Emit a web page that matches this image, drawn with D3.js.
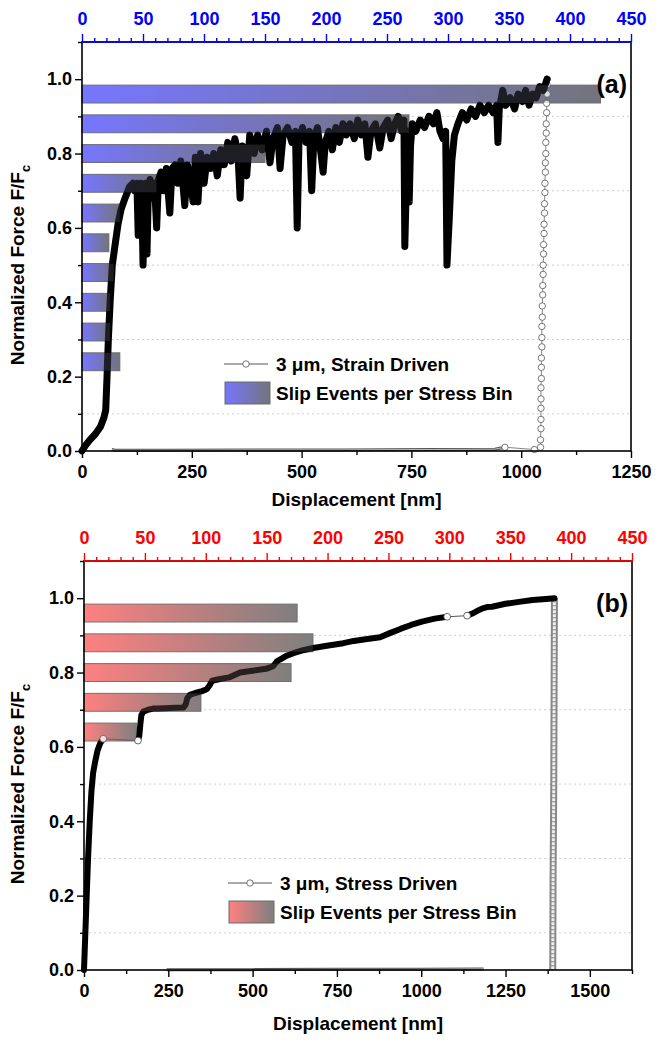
<!DOCTYPE html>
<meta charset="utf-8">
<script src="https://d3js.org/d3.v7.min.js"></script>
<style>
body { margin: 0; background: #fff; }
text { font-family: "Liberation Sans", Arial, sans-serif; font-weight: bold; }
</style>
<body>
<div id="canvas"></div>
<script>

// ---------------- data ----------------
// stress bins (F/Fc, bin centres) and slip events per bin (top axis units)
var binsA   = [0.24, 0.32, 0.40, 0.48, 0.56, 0.64, 0.72, 0.80, 0.88, 0.96];
var eventsA = [31, 23, 23, 26, 22, 31, 61, 150, 268, 425];
var binsB   = [0.64, 0.72, 0.80, 0.88, 0.96];
var eventsB = [43, 96, 170, 188, 175];
var binHalf = 0.024;

// (a) strain driven, [displacement nm, F/Fc]
var strainLoad = [[0,0],[8,0.015],[18,0.03],[30,0.045],[42,0.065],[50,0.09],[54,0.11],[57,0.2],[60,0.3],[64,0.4],[69,0.5],
  [76,0.56],[82,0.61],[89,0.65],[98,0.68],[108,0.71],[116,0.72],[120,0.70],[125,0.72],[128,0.58],[131,0.70],[134,0.72],
  [137,0.62],[139,0.50],[142,0.66],[145,0.72],[148,0.53],[151,0.70],[155,0.73],[160,0.68],[165,0.72],[170,0.60],[174,0.73],
  [180,0.75],[186,0.70],[192,0.76],[200,0.64],[205,0.76],[212,0.77],[218,0.72],[225,0.78],[234,0.66],[240,0.77],[246,0.73],
  [253,0.67],[258,0.79],[264,0.67],[270,0.80],[278,0.72],[285,0.79],[293,0.76],[300,0.80],[308,0.74],[316,0.81],[324,0.77],
  [332,0.83],[340,0.78],[348,0.84],[355,0.80],[360,0.68],[365,0.82],[375,0.74],[382,0.85],[392,0.80],[400,0.85],[410,0.81],
  [420,0.86],[428,0.775],[435,0.84],[445,0.87],[451,0.76],[458,0.85],[468,0.87],[478,0.83],[486,0.86],[490,0.60],[494,0.83],
  [502,0.87],[510,0.83],[518,0.86],[523,0.70],[528,0.84],[536,0.87],[544,0.80],[549,0.75],[554,0.83],[562,0.86],[570,0.81],
  [578,0.87],[586,0.83],[594,0.88],[602,0.85],[610,0.88],[620,0.84],[628,0.89],[636,0.85],[644,0.88],[651,0.79],[658,0.86],
  [668,0.88],[678,0.815],[686,0.87],[696,0.89],[704,0.84],[712,0.88],[720,0.90],[728,0.86],[733,0.89],[735,0.55],[738,0.70],
  [742,0.86],[745,0.67],[748,0.82],[752,0.88],[760,0.86],[770,0.89],[780,0.87],[790,0.90],[800,0.88],[808,0.91],[815,0.86],
  [822,0.84],[828,0.86],[831,0.50],[836,0.62],[842,0.78],[848,0.85],[856,0.88],[866,0.91],[876,0.89],[886,0.92],[896,0.90],
  [906,0.93],[916,0.91],[926,0.93],[936,0.91],[944,0.93],[947,0.83],[950,0.92],[958,0.97],[965,0.93],[975,0.95],[985,0.92],
  [993,0.96],[1003,0.94],[1010,0.97],[1018,0.93],[1026,0.96],[1034,0.95],[1042,0.98],[1050,0.97],[1056,0.99],[1059,1.0]];
var strainUnload = [[1059,1.0],[1059,0.985],[1059,0.96],[1058,0.935],[1058,0.91],[1057,0.88],[1057,0.855],[1056,0.83],
  [1056,0.80],[1055,0.775],[1055,0.75],[1054,0.72],[1054,0.695],[1053,0.665],[1053,0.64],[1052,0.61],[1052,0.585],
  [1051,0.555],[1051,0.53],[1050,0.50],[1050,0.475],[1049,0.445],[1049,0.42],[1048,0.39],[1048,0.36],[1047,0.335],
  [1047,0.305],[1047,0.28],[1046,0.25],[1046,0.225],[1046,0.195],[1045,0.17],[1045,0.14],[1045,0.115],[1045,0.085],
  [1045,0.06],[1044,0.03],[1044,0.01],[1030,0.004],[963,0.01]];
var strainReturn = [[963,0.01],[940,0.005],[800,0.004],[600,0.003],[400,0.003],[200,0.002],[75,0.002],[68,0.004]];

// (b) stress driven, dense runs joined by jumps
var stressRuns = [
  [[0,0],[4,0.1],[8,0.2],[12,0.3],[17,0.4],[22,0.48],[27,0.53],[33,0.56],[40,0.59],[48,0.61],[57,0.622]],
  [[160,0.617],[164,0.63],[167,0.66],[170,0.685],[176,0.695],[190,0.70],[205,0.703],[216,0.703],[240,0.704],[270,0.705],
   [295,0.706],[302,0.715],[306,0.73],[314,0.74],[330,0.745],[350,0.75],[364,0.755],[372,0.765],[380,0.778],[400,0.782],
   [430,0.787],[463,0.80],[500,0.805],[540,0.81],[561,0.817],[572,0.83],[581,0.835],[600,0.845],[621,0.852],[650,0.86],
   [680,0.866],[720,0.872],[769,0.879],[800,0.885],[840,0.89],[878,0.895],[907,0.906],[940,0.918],[970,0.928],
   [1002,0.937],[1040,0.945],[1077,0.95]],
  [[1136,0.953],[1150,0.958],[1165,0.965],[1180,0.972],[1195,0.976],[1210,0.977],[1250,0.985],[1290,0.99],[1330,0.995],
   [1370,0.998],[1395,1.0]]
];
var stressUnload = [[1395,1.0],[1394,0.75],[1393,0.5],[1391,0.25],[1390,0]];
var stressReturn = [[1185,0.003],[1000,0.002],[750,0.002],[500,0.001],[245,0.001]];

// tick labels
var yMajor = [0, 0.2, 0.4, 0.6, 0.8, 1.0];
var yMinor = [0.1, 0.3, 0.5, 0.7, 0.9, 1.1];
var topMajor = [0, 50, 100, 150, 200, 250, 300, 350, 400, 450];
var xMajorA = [0, 250, 500, 750, 1000, 1250];
var xMajorB = [0, 250, 500, 750, 1000, 1250, 1500];

var width = 663, height = 1040;
var svg = d3.select('#canvas').append('svg')
    .attr('width', width).attr('height', height);
var defs = svg.append('defs');

function gradient(id, c0, c1) {
  var gr = defs.append('linearGradient').attr('id', id)
      .attr('x1', '0%').attr('x2', '100%').attr('y1', '0%').attr('y2', '0%');
  gr.append('stop').attr('offset', '0%').attr('stop-color', c0);
  gr.append('stop').attr('offset', '100%').attr('stop-color', c1);
}
gradient('gBlue', '#7676ff', '#74747c');
gradient('gRed', '#ff8080', '#7f7f7f');

function styleAxis(sel, color) {
  sel.attr('font-family', '"Liberation Sans", Arial, sans-serif')
     .attr('font-size', 18).attr('font-weight', 'bold');
  sel.selectAll('.tick line').attr('stroke', color).attr('stroke-width', 1.4);
  sel.selectAll('.tick text').attr('fill', color);
  sel.select('.domain').remove();
}

function drawPanel(p) {
  var x = d3.scaleLinear().domain([0, p.xMax]).range([p.left, p.right]);
  var xt = d3.scaleLinear().domain([0, 450]).range([p.left, p.right]);
  var y = d3.scaleLinear().domain([0, 1.1]).range([p.bottom, p.top]);
  var line = d3.line().x(function(d) { return x(d[0]); }).y(function(d) { return y(d[1]); });
  var g = svg.append('g');

  // dotted grid on the minor ticks
  g.selectAll('.grid').data(yMinor.slice(0, 5)).enter().append('line')
    .attr('x1', p.left).attr('x2', p.right)
    .attr('y1', function(d) { return y(d); }).attr('y2', function(d) { return y(d); })
    .attr('stroke', '#cfcfcf').attr('stroke-width', 1).attr('stroke-dasharray', '2,3');

  // slip events per stress bin
  function bars(cls, opacity, stroke) {
    g.selectAll('.' + cls).data(p.bins).enter().append('rect')
      .attr('x', xt(0))
      .attr('y', function(d) { return y(d + binHalf); })
      .attr('width', function(d, i) { return xt(p.events[i]) - xt(0); })
      .attr('height', function(d) { return y(d - binHalf) - y(d + binHalf); })
      .attr('fill', 'url(#' + p.grad + ')')
      .attr('fill-opacity', opacity)
      .attr('stroke', stroke).attr('stroke-width', 1);
  }
  bars('barU', 1, '#6a6a6a');

  // return path along zero
  g.append('path').datum(p.ret).attr('d', line)
    .attr('fill', 'none').attr('stroke', '#555').attr('stroke-width', 3);
  g.append('path').datum(p.ret).attr('d', line)
    .attr('fill', 'none').attr('stroke', '#bdbdbd').attr('stroke-width', 1);

  // unloading branch
  if (p.unloadDense) {
    g.append('path').datum(p.unload).attr('d', line)
      .attr('fill', 'none').attr('stroke', '#888').attr('stroke-width', 7);
    g.append('path').datum(p.unload).attr('d', line)
      .attr('fill', 'none').attr('stroke', '#eee').attr('stroke-width', 3)
      .attr('stroke-dasharray', '3,1');
  } else {
    g.append('path').datum(p.unload).attr('d', line)
      .attr('fill', 'none').attr('stroke', '#666').attr('stroke-width', 0.8);
    g.selectAll('.uc').data(p.unload).enter().append('circle')
      .attr('cx', function(d) { return x(d[0]); }).attr('cy', function(d) { return y(d[1]); })
      .attr('r', 3.2).attr('fill', '#fff').attr('stroke', '#555').attr('stroke-width', 0.8);
  }

  // loading: dense runs drawn thick, jumps between runs thin
  for (var i = 0; i < p.runs.length - 1; i++) {
    var a = p.runs[i][p.runs[i].length - 1], b = p.runs[i + 1][0];
    g.append('path').datum([a, b]).attr('d', line)
      .attr('fill', 'none').attr('stroke', '#555').attr('stroke-width', 1);
  }
  p.runs.forEach(function(run) {
    g.append('path').datum(run).attr('d', line)
      .attr('fill', 'none').attr('stroke', '#000').attr('stroke-width', p.lineW)
      .attr('stroke-linejoin', 'round').attr('stroke-linecap', 'round');
  });
  for (var j = 0; j < p.runs.length - 1; j++) {
    var e = [p.runs[j][p.runs[j].length - 1], p.runs[j + 1][0]];
    g.selectAll('.jc' + j).data(e).enter().append('circle')
      .attr('cx', function(d) { return x(d[0]); }).attr('cy', function(d) { return y(d[1]); })
      .attr('r', 3.4).attr('fill', '#fff').attr('stroke', '#444').attr('stroke-width', 0.8);
  }

  // bars tint the curve where they overlap
  bars('barO', 0.25, 'none');

  // frame
  g.append('rect').attr('x', p.left).attr('y', p.top)
    .attr('width', p.right - p.left).attr('height', p.bottom - p.top)
    .attr('fill', 'none').attr('stroke', '#000').attr('stroke-width', 1.6);

  // axes
  var ax = g.append('g').attr('transform', 'translate(' + p.left + ',0)')
    .call(d3.axisLeft(y).tickValues(yMajor).tickFormat(d3.format('.1f')).tickSize(7).tickPadding(3));
  styleAxis(ax, '#000');
  var axm = g.append('g').attr('transform', 'translate(' + p.left + ',0)')
    .call(d3.axisLeft(y).tickValues(yMinor).tickFormat('').tickSize(4));
  styleAxis(axm, '#000');

  var minorX = d3.range(125, p.xMax + 1, 250);
  var bx = g.append('g').attr('transform', 'translate(0,' + p.bottom + ')')
    .call(d3.axisBottom(x).tickValues(p.xMajor).tickFormat(d3.format('d')).tickSize(7).tickPadding(7));
  styleAxis(bx, '#000');
  var bxm = g.append('g').attr('transform', 'translate(0,' + p.bottom + ')')
    .call(d3.axisBottom(x).tickValues(minorX).tickFormat('').tickSize(4));
  styleAxis(bxm, '#000');

  var tx = g.append('g').attr('transform', 'translate(0,' + p.top + ')')
    .call(d3.axisTop(xt).tickValues(topMajor).tickSize(8).tickPadding(9));
  styleAxis(tx, p.color);
  var txm = g.append('g').attr('transform', 'translate(0,' + p.top + ')')
    .call(d3.axisTop(xt).tickValues(d3.range(10, 450, 10).filter(function(d) { return d % 50; }))
      .tickFormat('').tickSize(4));
  styleAxis(txm, p.color);
  g.append('line').attr('x1', p.left).attr('x2', p.right)
    .attr('y1', p.top).attr('y2', p.top)
    .attr('stroke', p.color).attr('stroke-width', 1.6);

  // titles
  g.append('text').attr('x', (p.left + p.right) / 2).attr('y', p.bottom + p.titleGap)
    .attr('text-anchor', 'middle').attr('font-size', 19).text('Displacement [nm]');
  var yt = g.append('text')
    .attr('transform', 'translate(24,' + y(0.5) + ') rotate(-90)')
    .attr('text-anchor', 'middle').attr('font-size', 19);
  yt.append('tspan').text('Normalized Force F/F');
  yt.append('tspan').attr('font-size', 13).attr('dy', 6).text('c');

  g.append('text').attr('x', p.right - 4).attr('y', p.top + 51)
    .attr('text-anchor', 'end').attr('font-size', 25).text(p.letter);

  // legend
  var lg = g.append('g').attr('transform', 'translate(' + p.legX + ',' + p.legY + ')');
  lg.append('line').attr('x1', 0).attr('x2', 44).attr('y1', 0).attr('y2', 0)
    .attr('stroke', '#555').attr('stroke-width', 1);
  lg.append('circle').attr('cx', 22).attr('cy', 0).attr('r', 3.2)
    .attr('fill', '#fff').attr('stroke', '#555').attr('stroke-width', 0.8);
  lg.append('text').attr('x', 52).attr('y', 0).attr('dy', '0.36em')
    .attr('font-size', 19).text(p.legText);
  lg.append('rect').attr('x', 1).attr('y', 18).attr('width', 45).attr('height', 22)
    .attr('fill', 'url(#' + p.grad + ')').attr('stroke', '#6a6a6a');
  lg.append('text').attr('x', 52).attr('y', 29).attr('dy', '0.36em')
    .attr('font-size', 19).text('Slip Events per Stress Bin');
}

drawPanel({
  left: 82, right: 631, top: 42, bottom: 451, xMax: 1250, xMajor: xMajorA,
  color: '#0000ff', grad: 'gBlue', bins: binsA, events: eventsA, lineW: 7,
  runs: [strainLoad], unload: strainUnload, unloadDense: false, ret: strainReturn,
  letter: '(a)', legX: 224, legY: 364, legText: '3 \u03bcm, Strain Driven', titleGap: 55
});
drawPanel({
  left: 84, right: 632, top: 561, bottom: 970, xMax: 1625, xMajor: xMajorB,
  color: '#ff0000', grad: 'gRed', bins: binsB, events: eventsB, lineW: 6,
  runs: stressRuns, unload: stressUnload, unloadDense: true, ret: stressReturn,
  letter: '(b)', legX: 228, legY: 883, legText: '3 \u03bcm, Stress Driven', titleGap: 60
});

</script>
</body>
